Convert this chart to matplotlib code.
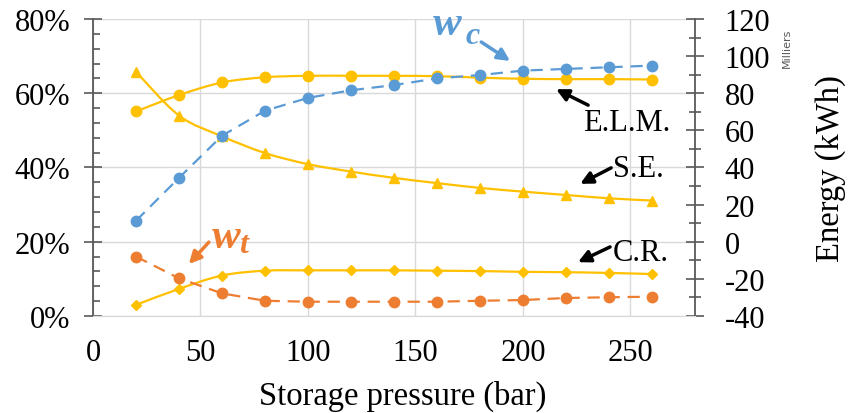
import numpy as np
import matplotlib
matplotlib.use("Agg")
import matplotlib.pyplot as plt
from matplotlib.path import Path
from matplotlib.patches import PathPatch
from matplotlib.ticker import MultipleLocator, PercentFormatter

# data
pressure = [20, 40, 60, 80, 100, 120, 140, 160, 180, 200, 220, 240, 260]
elm = [55.1, 59.5, 62.9, 64.3, 64.7, 64.7, 64.7, 64.6, 64.2, 63.9, 63.8, 63.8, 63.7]   # %
se = [65.8, 54.0, 48.4, 43.9, 40.9, 38.9, 37.2, 35.8, 34.5, 33.5, 32.6, 31.7, 31.1]    # %
cr = [3.0, 7.3, 10.9, 12.2, 12.3, 12.3, 12.3, 12.2, 12.1, 11.9, 11.8, 11.6, 11.3]      # %
w_c = [11.3, 34.4, 57.1, 70.6, 77.5, 81.6, 84.4, 88.0, 89.8, 92.2, 93.1, 94.0, 94.9]   # kWh (thousands)
w_t = [-8.0, -19.7, -27.8, -31.8, -32.3, -32.3, -32.3, -32.3, -31.8, -31.4, -30.3, -29.9, -29.6]

YELLOW = '#FFC000'
BLUE = '#5B9BD5'
ORANGE = '#ED7D31'
GRID = '#D9D9D9'
AXIS = '#595959'
FONT = 'Liberation Serif'

plt.rcParams.update({
    'font.family': FONT,
    'font.size': 22,
    'axes.unicode_minus': False,
})


def smooth_path(x, y, t=1/6):
    # Catmull-Rom style Bezier through the points (like Excel's smoothed line)
    x = np.asarray(x, float)
    y = np.asarray(y, float)
    n = len(x)
    verts = [(x[0], y[0])]
    codes = [Path.MOVETO]
    for i in range(n - 1):
        i0 = max(i - 1, 0)
        i3 = min(i + 2, n - 1)
        c1 = (x[i] + (x[i+1] - x[i0]) * t, y[i] + (y[i+1] - y[i0]) * t)
        c2 = (x[i+1] - (x[i3] - x[i]) * t, y[i+1] - (y[i3] - y[i]) * t)
        verts += [c1, c2, (x[i+1], y[i+1])]
        codes += [Path.CURVE4] * 3
    return Path(verts, codes)


fig = plt.figure(figsize=(8.5, 4.14), dpi=100)
ax = fig.add_axes([0.1094, 0.2343, 0.7082, 0.7174])
ax2 = ax.twinx()

# percent series (left axis)
for vals, mk, ms in [(elm, 'o', 7.5), (se, '^', 7.5), (cr, 'D', 5.5)]:
    ax.add_patch(PathPatch(smooth_path(pressure, vals), facecolor='none',
                           edgecolor=YELLOW, lw=1.6, zorder=3))
    ax.plot(pressure, vals, linestyle='none', marker=mk, markersize=ms,
            color=YELLOW, zorder=4)

# energy series (right axis)
ax2.plot(pressure, w_c, color=BLUE, lw=1.6, dashes=(5.5, 3.5), marker='o',
         markersize=7.5, zorder=4)
ax2.plot(pressure, w_t, color=ORANGE, lw=1.6, dashes=(5.5, 3.5), marker='o',
         markersize=7.5, zorder=4)

ax.set_xlim(0, 280)
ax.set_ylim(0, 80)
ax2.set_ylim(-40, 120)
ax.xaxis.set_major_locator(MultipleLocator(50))
ax.yaxis.set_major_locator(MultipleLocator(20))
ax.yaxis.set_minor_locator(MultipleLocator(4))
ax.yaxis.set_major_formatter(PercentFormatter(decimals=0))
ax2.yaxis.set_major_locator(MultipleLocator(20))
ax2.yaxis.set_minor_locator(MultipleLocator(10))

ax.grid(True, color=GRID, lw=1.0)
ax.set_axisbelow(True)
for a in (ax, ax2):
    a.spines['top'].set_visible(False)
    a.spines['bottom'].set_color(GRID)
ax.spines['right'].set_visible(False)
ax2.spines['left'].set_visible(False)
ax.spines['left'].set_color(AXIS)
ax.spines['left'].set_linewidth(1.3)
ax2.spines['right'].set_color(AXIS)
ax2.spines['right'].set_linewidth(1.3)

ax.tick_params(axis='x', length=0, pad=16, labelsize=22)
ax.tick_params(axis='y', which='major', direction='inout', length=13, width=1.2,
               color=AXIS, pad=10, labelsize=22)
ax.tick_params(axis='y', which='minor', direction='in', length=5, width=1.2, color=AXIS)
ax2.tick_params(axis='y', which='major', direction='inout', length=13, width=1.2,
                color=AXIS, pad=15, labelsize=22)
ax2.tick_params(axis='y', which='minor', direction='inout', length=8, width=1.2, color=AXIS)

ax.set_xlabel('Storage pressure (bar)', fontsize=23.5)
ax.xaxis.set_label_coords(0.515, -0.215)
ax2.set_ylabel('Energy (kWh)', fontsize=23.5)
ax2.yaxis.set_label_coords(1.2, 0.5)
ax2.text(1.153, 0.97, 'Milliers', transform=ax2.transAxes, rotation=90,
         fontsize=8, family='DejaVu Sans', color=AXIS, ha='center', va='top')

# labels with arrows
arrow_k = dict(arrowstyle='-|>', color='black', lw=2.5, mutation_scale=18, shrinkA=0, shrinkB=0)
ax.annotate('', xy=(215.4, 61.1), xytext=(230.3, 56.8), arrowprops=arrow_k)
ax.text(227.9, 52.0, 'E.L.M.', fontsize=22, va='center', ha='left')
ax.annotate('', xy=(226.6, 35.6), xytext=(241.0, 39.9), arrowprops=arrow_k)
ax.text(241.9, 39.6, 'S.E.', fontsize=22, va='center', ha='left')
ax.annotate('', xy=(225.6, 14.5), xytext=(240.5, 18.6), arrowprops=arrow_k)
ax.text(241.9, 17.2, 'C.R.', fontsize=22, va='center', ha='left')

ax.annotate('', xy=(194.0, 68.7), xytext=(180.6, 73.8),
            arrowprops=dict(arrowstyle='-|>', color=BLUE, lw=2.5, mutation_scale=18,
                            shrinkA=0, shrinkB=0))
ax.text(158.3, 76.0, 'w', fontsize=31, color=BLUE, fontweight='bold',
        fontstyle='italic', va='baseline', ha='left')
ax.text(173.2, 73.6, 'c', fontsize=23, color=BLUE, fontweight='bold',
        fontstyle='italic', va='baseline', ha='left')

ax.annotate('', xy=(44.6, 14.0), xytext=(53.9, 19.9),
            arrowprops=dict(arrowstyle='-|>', color=ORANGE, lw=2.5, mutation_scale=18,
                            shrinkA=0, shrinkB=0))
ax.text(55.2, 18.6, 'w', fontsize=31, color=ORANGE, fontweight='bold',
        fontstyle='italic', va='baseline', ha='left')
ax.text(67.8, 17.2, 't', fontsize=23, color=ORANGE, fontweight='bold',
        fontstyle='italic', va='baseline', ha='left')

fig.savefig('out.png', dpi=100)
